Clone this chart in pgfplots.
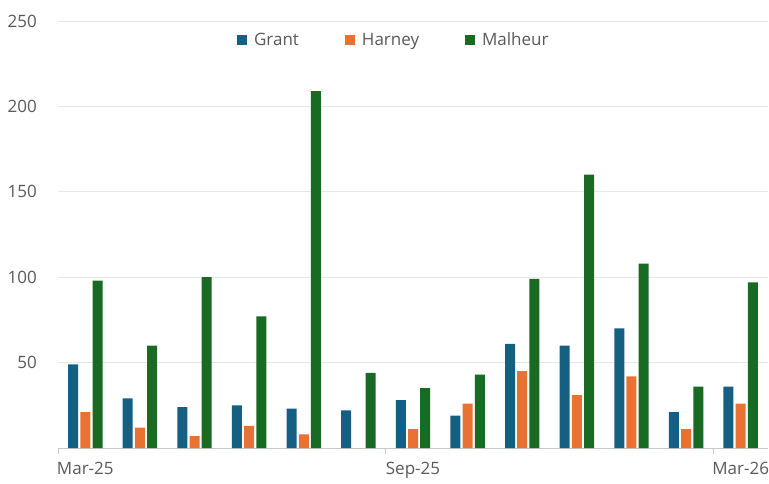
\documentclass[border=0pt]{standalone}
\usepackage{fontspec}
\setmainfont{Open Sans}
\usepackage{pgfplots}
\pgfplotsset{compat=1.18}
\definecolor{grantc}{HTML}{156082}
\definecolor{harneyc}{HTML}{E97132}
\definecolor{malheurc}{HTML}{196B24}
\definecolor{txt}{HTML}{595959}
\definecolor{gridc}{HTML}{E6E6E6}
\definecolor{basec}{HTML}{C8C8C8}
\begin{document}
\begin{tikzpicture}
\useasboundingbox (0,0) rectangle (769pt,483pt);
\begin{axis}[
    at={(58pt,35pt)}, anchor=south west,
    scale only axis,
    width=710pt, height=427pt,
    ybar=2.2pt, bar width=10pt,
    xmin=-0.5, xmax=12.5,
    ymin=0, ymax=250,
    xtick={0,6,12},
    xticklabels={Mar-25,Sep-25,Mar-26},
    minor xtick={-0.5,5.5,11.5},
    ytick={50,100,150,200,250},
    major tick length=0pt,
    minor tick length=6pt,
    tick align=outside,
    xtick pos=bottom, ytick pos=left,
    axis x line*=bottom, axis y line*=left,
    x axis line style={draw=basec, line width=0.9pt, -},
    y axis line style={draw=none},
    minor tick style={draw=basec, line width=0.9pt},
    ymajorgrids,
    grid style={draw=gridc, line width=0.8pt},
    /pgf/number format/assume math mode=true,
    tick label style={font=\fontsize{17}{20}\selectfont, text=txt},
    yticklabel style={inner sep=0pt, xshift=-21pt},
    xticklabel style={inner sep=0pt, anchor=north, yshift=-14pt},
    legend columns=3,
    legend style={at={(0.473,0.955)}, anchor=center, draw=none, fill=none,
        font=\fontsize{17}{20}\selectfont, text=txt,
        /tikz/every odd column/.append style={column sep=5pt},
        /tikz/every even column/.append style={column sep=44pt}},
    legend cell align=left,
]
\pgfplotsset{leg/.style={draw=none,
    legend image code/.code={\fill[##1] (0pt,-5pt) rectangle (10pt,5pt);}}}
\addplot[fill=grantc, leg] coordinates {
    (0,49) (1,29) (2,24) (3,25) (4,23) (5,22) (6,28)
    (7,19) (8,61) (9,60) (10,70) (11,21) (12,36)};
\addlegendentry{Grant}
\addplot[fill=harneyc, leg] coordinates {
    (0,21) (1,12) (2,7) (3,13) (4,8) (5,0) (6,11)
    (7,26) (8,45) (9,31) (10,42) (11,11) (12,26)};
\addlegendentry{Harney}
\addplot[fill=malheurc, leg] coordinates {
    (0,98) (1,60) (2,100) (3,77) (4,209) (5,44) (6,35)
    (7,43) (8,99) (9,160) (10,108) (11,36) (12,97)};
\addlegendentry{Malheur}
\end{axis}
\end{tikzpicture}
\end{document}
